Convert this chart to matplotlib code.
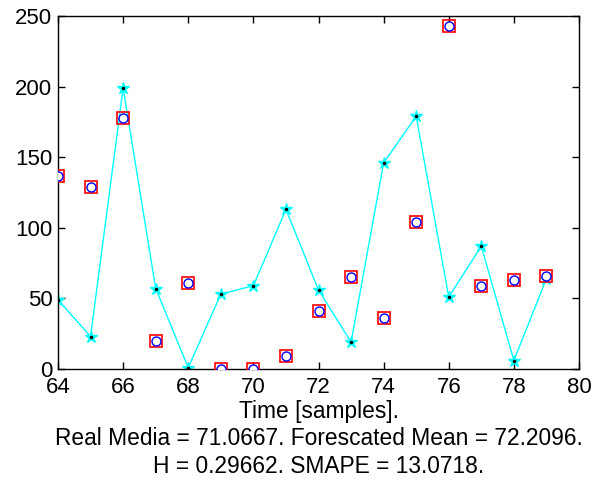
import matplotlib
matplotlib.use("Agg")
import matplotlib.pyplot as plt

t = [64, 65, 66, 67, 68, 69, 70, 71, 72, 73, 74, 75, 76, 77, 78, 79]
real = [137, 129, 178, 20, 61, 0, 0, 9, 41, 65, 36, 104, 243, 59, 63, 66]
forecast = [49, 23, 199, 57, 1, 53, 59, 113, 56, 19, 146, 179, 51, 87, 6, 64]

xticks = [64, 66, 68, 70, 72, 74, 76, 78, 80]
yticks = [0, 50, 100, 150, 200, 250]
xlabel = "Time [samples].\nReal Media = 71.0667. Forescated Mean = 72.2096.\nH = 0.29662. SMAPE = 13.0718."

plt.rcParams['font.family'] = ['Liberation Sans', 'DejaVu Sans']
fig = plt.figure(figsize=(6.03, 4.79), dpi=100)
ax = fig.add_axes([0.0962, 0.2296, 0.864, 0.737])

ax.plot(t, forecast, '-', color='cyan', lw=1.0, marker='*', ms=9, mfc='cyan', mec='cyan', zorder=2)
ax.plot(t, forecast, '.', color='black', ms=3, zorder=3)
ax.plot(t, real, 's', mfc='none', mec='red', ms=9, mew=1.2, ls='none', zorder=4)
ax.plot(t, real, 'o', mfc='white', mec='blue', ms=6.5, mew=1.0, ls='none', zorder=5)

ax.set_xlim(64, 80)
ax.set_ylim(0, 250)
ax.set_xticks(xticks)
ax.set_yticks(yticks)
ax.tick_params(axis='both', direction='in', top=True, right=True, length=5, labelsize=16, width=1)
ax.tick_params(axis='x', pad=6)
ax.tick_params(axis='y', pad=4)
for s in ax.spines.values():
    s.set_linewidth(1.0)
ax.set_xlabel(xlabel, fontsize=16.4, linespacing=1.25, labelpad=1)

fig.savefig("out.png", dpi=100)
